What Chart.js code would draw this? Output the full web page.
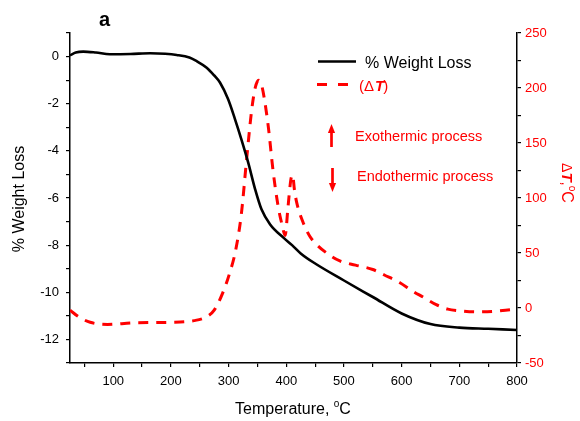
<!DOCTYPE html>
<html>
<head>
<meta charset="utf-8">
<script src="https://cdn.jsdelivr.net/npm/chart.js@4.4.1/dist/chart.umd.min.js"></script>
<style>
  html, body { margin: 0; padding: 0; background: #fff; }
  #wrap { width: 580px; height: 421px; }
</style>
</head>
<body>
<div id="wrap"><canvas id="c" width="580" height="421"></canvas></div>
<script>
// Thermogravimetric curve: temperature (°C) vs % weight loss
const tempWeight = [25, 35, 48, 70, 94, 130, 164, 190, 210, 232, 245, 262, 275, 285, 299, 311, 322, 334, 346, 357, 372, 395, 410, 425, 450, 500, 550, 600, 650, 700, 750, 800];
const weightLoss = [0.05, 0.17, 0.21, 0.17, 0.1, 0.11, 0.14, 0.12, 0.07, -0.04, -0.2, -0.47, -0.8, -1.1, -1.8, -2.65, -3.5, -4.5, -5.63, -6.48, -7.12, -7.68, -8.0, -8.35, -8.78, -9.5, -10.2, -10.9, -11.35, -11.5, -11.55, -11.6];

// Differential thermal curve: temperature (°C) vs ΔT (°C)
const tempDT = [25, 40, 60, 90, 135, 200, 240, 262, 275, 290, 302, 312, 322, 331, 340, 346, 352, 357, 362, 369, 377, 386, 393, 398, 403, 408, 411, 414, 418, 429, 441, 452, 470, 492, 520, 550, 570, 597, 620, 637, 660, 680, 700, 730, 760, 790, 800];
const deltaT = [-2, -8, -13, -15, -13.5, -13, -11.5, -8, -2, 14, 32, 52, 85, 134, 180, 200, 207, 203, 190, 164, 125, 92, 75, 66, 92, 117, 121, 108, 96, 78, 65, 58, 50, 43, 39, 35, 30, 23, 15, 10, 3, -1, -2.5, -3.5, -3, -1.5, -1];

// Axis tick positions
const xTickValues = [50, 100, 150, 200, 250, 300, 350, 400, 450, 500, 550, 600, 650, 700, 750, 800];
const yTickValues = [-13, -12, -11, -10, -9, -8, -7, -6, -5, -4, -3, -2, -1, 0, 1];
const y2TickValues = [-50, -25, 0, 25, 50, 75, 100, 125, 150, 175, 200, 225, 250];

const FONT = "'Liberation Sans', Arial, sans-serif";
const RED = '#ff0000';

const toPoints = (xs, ys) => xs.map((x, i) => ({ x: x, y: ys[i] }));
const setTicks = (values) => (scale) => { scale.ticks = values.map(v => ({ value: v })); };

function drawRich(ctx, parts, x, y) {
  // parts: [{text, font, dy}] drawn left to right, centred on x
  let total = 0;
  parts.forEach(p => { ctx.font = p.font; p.w = ctx.measureText(p.text).width; total += p.w; });
  let cx = x - total / 2;
  parts.forEach(p => {
    ctx.font = p.font;
    ctx.fillText(p.text, cx, y + (p.dy || 0));
    cx += p.w;
  });
}

function drawArrow(ctx, x, yTail, yTip) {
  const dir = yTip < yTail ? -1 : 1;
  ctx.save();
  ctx.strokeStyle = RED;
  ctx.fillStyle = RED;
  ctx.lineWidth = 2.7;
  ctx.beginPath();
  ctx.moveTo(x, yTail);
  ctx.lineTo(x, yTip - dir * 7);
  ctx.stroke();
  ctx.beginPath();
  ctx.moveTo(x, yTip);
  ctx.lineTo(x - 3.6, yTip - dir * 9);
  ctx.lineTo(x + 3.6, yTip - dir * 9);
  ctx.closePath();
  ctx.fill();
  ctx.restore();
}

const decorations = {
  id: 'decorations',
  afterDraw(chart) {
    const ctx = chart.ctx;
    ctx.save();
    ctx.textBaseline = 'alphabetic';

    // panel letter
    ctx.fillStyle = '#000';
    ctx.font = 'bold 20px ' + FONT;
    ctx.textAlign = 'left';
    ctx.fillText('a', 99, 26);

    // x axis title
    drawRich(ctx, [
      { text: 'Temperature, ', font: '16px ' + FONT },
      { text: 'o', font: '10px ' + FONT, dy: -7 },
      { text: 'C', font: '16px ' + FONT }
    ], 293, 414);

    // left axis title
    ctx.save();
    ctx.translate(24, 199);
    ctx.rotate(-Math.PI / 2);
    ctx.font = '16px ' + FONT;
    drawRich(ctx, [{ text: '% Weight Loss', font: '16px ' + FONT }], 0, 0);
    ctx.restore();

    // right axis title
    ctx.save();
    ctx.fillStyle = RED;
    ctx.translate(562, 183);
    ctx.rotate(Math.PI / 2);
    drawRich(ctx, [
      { text: '\u0394', font: '14px ' + FONT },
      { text: 'T', font: 'italic bold 15px ' + FONT },
      { text: ',', font: '15px ' + FONT },
      { text: 'o', font: '10px ' + FONT, dy: -7 },
      { text: 'C', font: '16px ' + FONT }
    ], 0, 0);
    ctx.restore();

    // legend
    const ds = chart.data.datasets;
    ctx.strokeStyle = '#000';
    ctx.lineWidth = 2.5;
    ctx.beginPath();
    ctx.moveTo(318, 61.5);
    ctx.lineTo(356, 61.5);
    ctx.stroke();
    ctx.fillStyle = '#000';
    ctx.textAlign = 'left';
    ctx.font = '16px ' + FONT;
    ctx.fillText(ds[0].label, 365, 67.5);

    ctx.strokeStyle = RED;
    ctx.lineWidth = 3;
    ctx.setLineDash([10, 11]);
    ctx.beginPath();
    ctx.moveTo(317, 84.5);
    ctx.lineTo(349, 84.5);
    ctx.stroke();
    ctx.setLineDash([]);
    ctx.fillStyle = RED;
    const lx = 359;
    ctx.font = '15px ' + FONT;
    ctx.fillText('(\u0394', lx, 91);
    let w = ctx.measureText('(\u0394').width;
    ctx.font = 'italic bold 15px ' + FONT;
    ctx.fillText('T', lx + w + 1, 91);
    w += ctx.measureText('T').width + 1;
    ctx.font = '15px ' + FONT;
    ctx.fillText(')', lx + w - 1, 91);

    // process arrows
    drawArrow(ctx, 331.5, 147, 124);
    ctx.font = '14.5px ' + FONT;
    ctx.fillStyle = RED;
    ctx.fillText('Exothermic process', 355, 141);
    drawArrow(ctx, 332.5, 168, 192);
    ctx.fillText('Endothermic process', 357, 181);

    ctx.restore();
  }
};

const tickFont = { family: FONT, size: 13 };

new Chart(document.getElementById('c'), {
  type: 'line',
  data: {
    datasets: [
      {
        label: '% Weight Loss',
        data: toPoints(tempWeight, weightLoss),
        yAxisID: 'y',
        borderColor: '#000',
        borderWidth: 2.6,
        pointRadius: 0,
        cubicInterpolationMode: 'monotone',
        fill: false
      },
      {
        label: '(\u0394T)',
        data: toPoints(tempDT, deltaT),
        yAxisID: 'y2',
        borderColor: RED,
        borderWidth: 3,
        borderDash: [10, 8],
        pointRadius: 0,
        cubicInterpolationMode: 'monotone',
        fill: false
      }
    ]
  },
  options: {
    responsive: false,
    animation: false,
    devicePixelRatio: 1,
    layout: { padding: { top: 33, left: 0, right: 0, bottom: 0 } },
    plugins: { legend: { display: false }, tooltip: { enabled: false }, title: { display: false } },
    scales: {
      x: {
        type: 'linear',
        min: 25,
        max: 800,
        afterBuildTicks: setTicks(xTickValues),
        afterFit: (s) => { s.height = 58; },
        grid: { drawOnChartArea: false, drawTicks: true, tickLength: 4, color: '#000', lineWidth: 1.2 },
        border: { display: true, color: '#000', width: 1.5 },
        ticks: {
          autoSkip: false, maxRotation: 0, padding: 7, color: '#000', font: tickFont,
          callback: (v) => (v % 100 === 0 ? String(v) : '')
        }
      },
      y: {
        type: 'linear',
        position: 'left',
        min: -13,
        max: 1,
        afterBuildTicks: setTicks(yTickValues),
        afterFit: (s) => { s.width = 70; },
        grid: { drawOnChartArea: false, drawTicks: true, tickLength: 4, color: '#000', lineWidth: 1.2 },
        border: { display: true, color: '#000', width: 1.5 },
        ticks: {
          autoSkip: false, padding: 7, color: '#000', font: tickFont,
          callback: (v) => (v % 2 === 0 ? String(v) : '')
        }
      },
      y2: {
        type: 'linear',
        position: 'right',
        min: -50,
        max: 250,
        afterBuildTicks: setTicks(y2TickValues),
        afterFit: (s) => { s.width = 63; },
        grid: { drawOnChartArea: false, drawTicks: true, tickLength: 4, color: '#000', lineWidth: 1.2 },
        border: { display: true, color: '#000', width: 1.5 },
        ticks: {
          autoSkip: false, padding: 4, color: RED, font: tickFont,
          callback: (v) => (v % 50 === 0 ? String(v) : '')
        }
      }
    }
  },
  plugins: [decorations]
});
</script>
</body>
</html>
